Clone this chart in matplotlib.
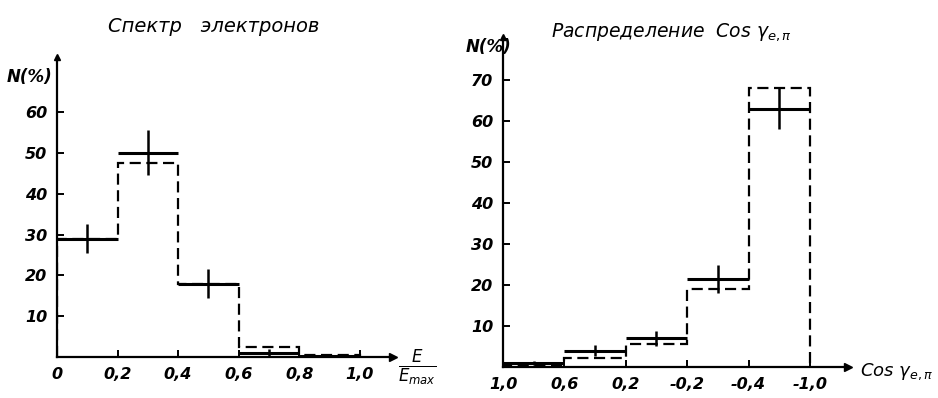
import matplotlib.pyplot as plt

# ----------------------------
# DATA
# ----------------------------
# left: electron spectrum, E/Emax bins
e_edges = [0.0, 0.2, 0.4, 0.6, 0.8, 1.0]
e_exp = [29, 50, 18, 1, 0.3]
e_err = [3.5, 5.5, 3.5, 1.0, 0]
e_theory = [29, 47.5, 18, 2.5, 0.5]
e_ticks = [0.0, 0.2, 0.4, 0.6, 0.8, 1.0]
e_ticklabels = ["0", "0,2", "0,4", "0,6", "0,8", "1,0"]
e_yticks = [10, 20, 30, 40, 50, 60]

# right: cos(gamma e,pi) distribution, bins drawn with equal width
cos_labels = ["1,0", "0,6", "0,2", "-0,2", "-0,4", "-1,0"]
cos_exp = [1, 4, 7, 21.5, 63]
cos_err = [0.5, 1.3, 1.8, 3.5, 5]
cos_theory = [0.5, 2.3, 5.5, 19, 68]
cos_yticks = [10, 20, 30, 40, 50, 60, 70]

font = dict(style="italic", fontweight="bold", family="DejaVu Sans")
plt.rcParams["mathtext.fontset"] = "dejavusans"

fig = plt.figure(figsize=(9.38, 3.98), dpi=100)
ax1 = fig.add_axes([57 / 938, 1 - 357 / 398, 336 / 938, 300 / 398])
ax2 = fig.add_axes([503 / 938, 1 - 367 / 398, 345 / 938, 330 / 398])


def style_axes(ax):
    for s in ["top", "right"]:
        ax.spines[s].set_visible(False)
    for s in ["left", "bottom"]:
        ax.spines[s].set_linewidth(1.6)
    ax.tick_params(direction="in", length=5, width=1.4, labelsize=11.5, pad=7)
    for lab in ax.get_xticklabels() + ax.get_yticklabels():
        lab.set_fontstyle("italic")
        lab.set_fontweight("bold")
    # arrows at the ends of the axes
    ax.plot(1, 0, ">k", ms=6, transform=ax.transAxes, clip_on=False)
    ax.plot(0, 1, "^k", ms=4, transform=ax.transAxes, clip_on=False)


def draw_hist(ax, edges, exp, err, theory):
    ax.stairs(theory, edges, baseline=0, color="black", lw=1.6,
              linestyle=(0, (5, 2.5)))
    for i in range(len(exp)):
        x0, x1 = edges[i], edges[i + 1]
        xc = (x0 + x1) / 2
        ax.hlines(exp[i], x0, x1, color="black", lw=2.2)
        if err[i] > 0:
            ax.vlines(xc, exp[i] - err[i], exp[i] + err[i], color="black", lw=1.8)


# ----------------------------
# PLOT 1: electron spectrum
# ----------------------------
draw_hist(ax1, e_edges, e_exp, e_err, e_theory)
ax1.set_xlim(0, 1.11)
ax1.set_ylim(0, 73.5)
ax1.set_xticks(e_ticks)
ax1.set_xticklabels(e_ticklabels)
ax1.set_yticks(e_yticks)
style_axes(ax1)

fig.text(214 / 938, 1 - 26 / 398, "Спектр   электронов", ha="center",
         va="center", fontsize=14, style="italic")
fig.text(30 / 938, 1 - 77 / 398, "N(%)", ha="center", va="center",
         fontsize=12, **font)
fig.text(417 / 938, 1 - 368 / 398, r"$\frac{E}{E_{max}}$", ha="center",
         va="center", fontsize=17, style="italic")

# ----------------------------
# PLOT 2: cos distribution
# ----------------------------
cos_edges = list(range(len(cos_labels)))
draw_hist(ax2, cos_edges, cos_exp, cos_err, cos_theory)
ax2.set_xlim(0, 5.62)
ax2.set_ylim(0, 80.5)
ax2.set_xticks(cos_edges)
ax2.set_xticklabels(cos_labels)
ax2.set_yticks(cos_yticks)
style_axes(ax2)

fig.text(671 / 938, 1 - 32 / 398, r"Распределение  Cos $\gamma_{e,\pi}$",
         ha="center", va="center", fontsize=13.5, style="italic")
fig.text(489 / 938, 1 - 47 / 398, "N(%)", ha="center", va="center",
         fontsize=12, **font)
fig.text(897 / 938, 1 - 372 / 398, r"Cos $\gamma_{e,\pi}$", ha="center",
         va="center", fontsize=13, style="italic")

fig.savefig("out.png", dpi=100)
